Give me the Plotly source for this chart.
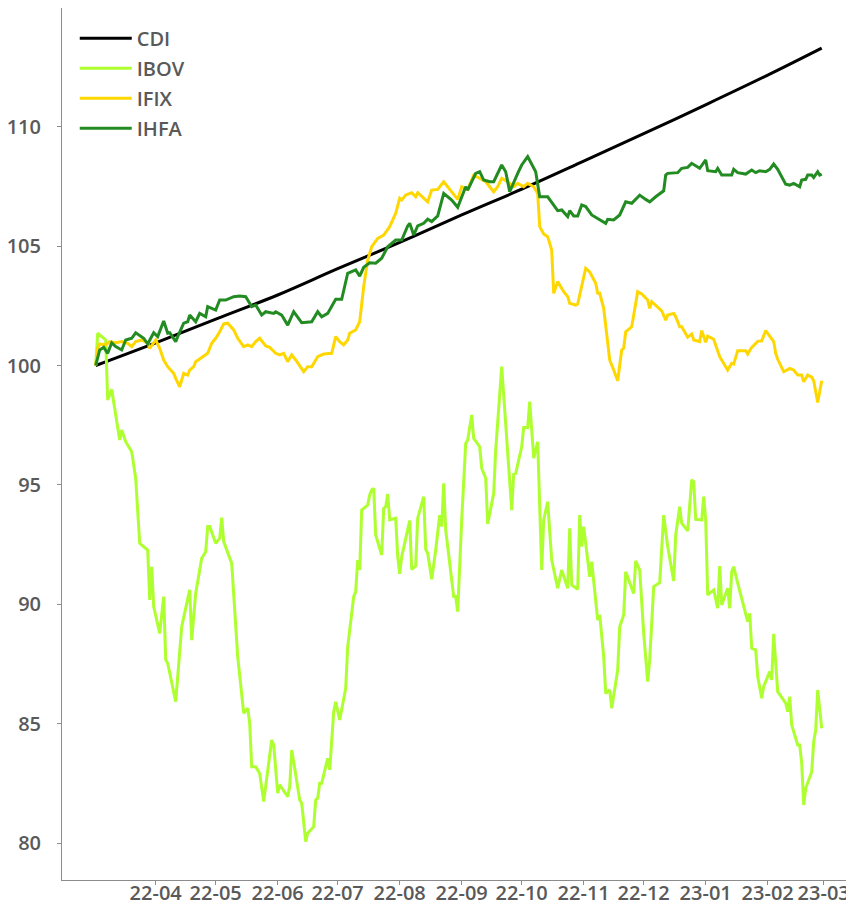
import pandas as pd
import plotly.graph_objects as go

START = pd.Timestamp("2022-03-02")

# days since 2022-03-02 and index values (base 100)
cdi_day = [0, 30, 61, 91, 121, 152, 183, 215, 244, 274, 306, 336, 363]
cdi_val = [100.00, 100.95, 101.97, 102.95, 104.05, 105.15, 106.30, 107.45, 108.55, 109.70, 110.95, 112.15, 113.28]

ibov_day = [0, 1, 5, 6, 8, 10, 12, 13, 15, 18, 20, 22, 26, 27, 28, 29, 32, 34, 35, 36, 40, 43, 47, 48, 50, 53, 55, 56, 57, 60,
            62, 63, 64, 68, 71, 74, 76, 77, 78, 80, 82, 84, 88, 89, 91, 92, 96, 97, 98, 99, 102, 103, 105, 106, 109, 110, 111, 112, 113, 116,
            117, 119, 120, 122, 124, 125, 126, 129, 130, 131, 132, 133, 136, 137, 138, 139, 140, 143, 144, 145, 146, 147, 150, 151, 152, 153, 157, 158, 160, 161,
            164, 165, 166, 168, 170, 172, 173, 174, 175, 179, 180, 181, 183, 185, 186, 188, 189, 192, 193, 195, 196, 199, 200, 201, 203, 208, 209, 210, 213, 214,
            216, 217, 219, 221, 223, 224, 226, 228, 231, 233, 236, 237, 238, 241, 242, 243, 244, 247, 248, 251, 252, 254, 255, 257, 258, 261, 262, 264, 265, 269,
            270, 272, 274, 276, 277, 279, 282, 284, 286, 289, 290, 292, 293, 296, 298, 299, 300, 303, 304, 305, 306, 309, 311, 312, 313, 316, 317, 318, 319, 321,
            326, 327, 328, 330, 331, 333, 334, 337, 338, 339, 341, 345, 346, 347, 348, 351, 352, 353, 354, 355, 358, 359, 360, 361, 363]
ibov_val = [100.00, 101.35, 101.07, 98.56, 99.00, 97.86, 96.88, 97.30, 96.81, 96.39, 95.28, 92.56, 92.28, 90.19, 91.58, 89.91, 88.79, 90.33, 87.68, 87.54,
            85.93, 89.07, 90.61, 88.51, 90.47, 91.93, 92.21, 93.26, 93.26, 92.56, 92.77, 93.63, 92.63, 91.72, 87.82, 85.45, 85.66, 85.03, 83.21, 83.21,
            82.93, 81.75, 84.33, 84.12, 82.10, 82.45, 81.96, 82.38, 83.91, 83.42, 81.82, 81.68, 80.08, 80.43, 80.70, 81.82, 81.89, 82.52, 82.52, 83.56,
            83.08, 85.51, 85.93, 85.17, 86.08, 86.49, 88.23, 90.33, 90.54, 91.86, 91.44, 93.95, 94.16, 94.58, 94.79, 94.86, 92.91, 92.07, 94.02, 94.09,
            94.62, 93.54, 93.61, 92.00, 91.28, 92.00, 93.51, 91.47, 91.61, 93.61, 94.51, 92.31, 92.14, 91.05, 92.28, 93.74, 93.26, 95.07, 93.12, 90.33,
            90.33, 89.70, 93.54, 96.74, 96.88, 97.93, 96.95, 96.60, 95.70, 95.28, 93.37, 94.65, 96.46, 97.58, 99.95, 93.95, 95.46, 95.49, 96.60, 97.41,
            97.41, 98.49, 96.12, 96.81, 91.44, 93.54, 94.30, 91.86, 90.68, 91.44, 90.68, 93.19, 90.82, 90.64, 93.74, 92.42, 93.26, 91.16, 91.79, 89.35,
            89.56, 87.82, 86.28, 86.42, 85.66, 87.26, 89.07, 89.56, 91.37, 90.46, 91.83, 91.44, 88.79, 86.77, 87.68, 90.75, 90.91, 93.74, 92.42, 90.98,
            92.91, 94.09, 93.40, 93.08, 95.21, 95.14, 93.56, 93.54, 94.51, 93.54, 90.40, 90.61, 89.84, 91.61, 89.98, 90.68, 89.84, 91.37, 91.58, 90.89,
            89.28, 89.63, 88.17, 88.10, 86.98, 86.08, 86.57, 87.19, 86.84, 88.77, 86.35, 85.87, 85.51, 86.14, 84.96, 84.12, 84.12, 83.36, 81.61, 82.31,
            83.00, 84.26, 84.75, 86.42, 84.82]

ifix_day = [0, 1, 2, 5, 7, 10, 13, 16, 18, 20, 23, 26, 27, 30, 32, 34, 36, 39, 40, 42, 44, 46, 47, 49, 50, 54, 56, 58, 60, 62,
            64, 66, 69, 71, 74, 76, 78, 80, 82, 85, 87, 90, 92, 94, 96, 98, 100, 104, 106, 108, 111, 114, 116, 118, 120, 122, 124, 126, 127, 130,
            132, 134, 136, 138, 141, 144, 147, 150, 152, 153, 155, 158, 160, 161, 164, 166, 168, 171, 174, 176, 179, 181, 183, 186, 189, 191, 195, 199, 201, 203,
            206, 209, 211, 214, 216, 219, 221, 222, 224, 226, 228, 229, 231, 234, 236, 237, 240, 241, 245, 247, 250, 251, 252, 254, 257, 259, 261, 263, 264, 265,
            268, 271, 273, 276, 277, 278, 281, 283, 285, 286, 289, 290, 292, 293, 296, 298, 299, 302, 303, 305, 306, 309, 312, 314, 316, 318, 319, 321, 325, 326,
            328, 331, 333, 335, 339, 340, 341, 344, 347, 349, 351, 353, 354, 356, 358, 359, 361, 363]
ifix_val = [100.00, 100.72, 100.90, 100.86, 101.00, 100.95, 101.00, 100.93, 100.79, 101.00, 101.07, 100.93, 100.72, 101.07, 100.72, 100.23, 99.95, 99.67, 99.46, 99.11,
            99.67, 99.60, 99.81, 99.95, 100.16, 100.37, 100.51, 100.93, 101.14, 101.41, 101.74, 101.77, 101.49, 101.14, 100.79, 100.86, 100.79, 101.00, 101.14, 100.82,
            100.76, 100.51, 100.44, 100.51, 100.16, 100.44, 100.23, 99.74, 99.95, 99.95, 100.37, 100.48, 100.48, 100.51, 101.21, 101.00, 100.86, 101.07, 101.35, 101.49,
            101.83, 103.30, 104.41, 104.97, 105.32, 105.46, 105.81, 106.37, 107.00, 106.92, 107.13, 107.23, 107.06, 107.23, 107.00, 106.85, 107.34, 107.37, 107.69, 107.48,
            107.20, 106.95, 107.48, 107.37, 107.97, 107.87, 107.69, 107.27, 107.48, 107.83, 107.69, 107.48, 107.62, 107.48, 107.62, 107.48, 107.20, 105.81, 105.50, 105.39,
            104.83, 103.02, 103.51, 103.09, 102.88, 102.60, 102.53, 102.57, 104.07, 103.92, 103.44, 103.02, 103.02, 102.39, 100.23, 99.81, 99.36, 100.65, 100.72, 101.41,
            101.62, 103.09, 102.99, 102.74, 102.39, 102.67, 102.46, 102.29, 101.90, 102.11, 102.18, 102.04, 101.62, 101.62, 101.18, 101.32, 101.07, 101.00, 101.46, 100.97,
            101.23, 101.10, 100.37, 100.09, 99.81, 100.09, 100.06, 100.62, 100.62, 100.48, 100.76, 101.01, 101.03, 101.46, 101.00, 100.51, 100.26, 99.74, 99.88, 99.81,
            99.60, 99.60, 99.32, 99.60, 99.51, 99.36, 98.45, 99.36]

ihfa_day = [0, 2, 4, 6, 8, 10, 13, 15, 18, 20, 24, 26, 29, 31, 34, 36, 37, 40, 41, 44, 46, 47, 50, 52, 55, 56, 60, 62, 65, 69,
            72, 75, 76, 78, 80, 83, 85, 89, 90, 93, 96, 99, 103, 108, 111, 113, 116, 120, 123, 126, 130, 132, 134, 137, 140, 143, 146, 150, 153, 156,
            157, 159, 161, 164, 166, 168, 171, 174, 178, 181, 185, 186, 190, 192, 194, 197, 199, 203, 205, 207, 211, 213, 216, 220, 222, 226, 231, 233, 236, 237,
            239, 241, 243, 245, 248, 252, 255, 256, 259, 262, 265, 268, 272, 275, 277, 280, 284, 285, 286, 291, 293, 296, 298, 302, 305, 306, 310, 311, 313, 318,
            319, 321, 325, 328, 330, 332, 335, 337, 339, 341, 345, 347, 349, 352, 353, 355, 356, 358, 359, 361, 362, 363]
ihfa_val = [100.00, 100.65, 100.76, 100.51, 100.95, 100.79, 100.65, 101.07, 101.14, 101.37, 101.14, 100.90, 101.37, 101.21, 101.86, 101.35, 101.37, 101.00, 101.21, 101.77,
            101.83, 102.11, 101.83, 102.18, 102.04, 102.46, 102.32, 102.74, 102.74, 102.88, 102.91, 102.88, 102.74, 102.46, 102.53, 102.11, 102.25, 102.18, 102.25, 102.11,
            101.69, 102.25, 101.79, 101.83, 102.25, 102.04, 102.18, 102.77, 102.77, 103.86, 104.00, 103.74, 104.11, 104.30, 104.28, 104.49, 104.97, 105.25, 105.25, 105.84,
            105.95, 105.46, 105.84, 105.95, 106.12, 106.02, 106.26, 107.20, 106.92, 106.62, 107.48, 107.34, 108.04, 108.11, 107.76, 107.69, 107.69, 108.39, 108.11, 107.27,
            108.04, 108.39, 108.74, 108.11, 107.06, 107.06, 106.48, 106.51, 106.23, 106.48, 106.26, 106.26, 106.72, 106.65, 106.30, 106.09, 105.95, 106.12, 106.09, 106.30,
            106.85, 106.79, 107.13, 106.95, 106.85, 107.06, 107.31, 107.97, 108.04, 108.07, 108.25, 108.29, 108.46, 108.25, 108.60, 108.15, 108.11, 108.25, 107.97, 107.97,
            108.21, 108.07, 108.01, 108.18, 108.07, 108.15, 108.11, 108.21, 108.43, 108.21, 107.59, 107.55, 107.62, 107.48, 107.76, 107.79, 107.97, 107.97, 107.87, 108.11,
            107.97, 108.01]

month_ticks = ["2022-04-01", "2022-05-01", "2022-06-01", "2022-07-01", "2022-08-01", "2022-09-01",
               "2022-10-01", "2022-11-01", "2022-12-01", "2023-01-01", "2023-02-01", "2023-03-01"]
month_labels = ["22-04", "22-05", "22-06", "22-07", "22-08", "22-09",
                "22-10", "22-11", "22-12", "23-01", "23-02", "23-03"]
y_ticks = [80, 85, 90, 95, 100, 105, 110]


def to_dates(days):
    return [START + pd.Timedelta(days=d) for d in days]


series = [
    ("CDI", cdi_day, cdi_val, "#000000", "spline"),
    ("IBOV", ibov_day, ibov_val, "#adff2f", "linear"),
    ("IFIX", ifix_day, ifix_val, "#ffd700", "linear"),
    ("IHFA", ihfa_day, ihfa_val, "#228b22", "linear"),
]

fig = go.Figure()
for name, days, vals, color, shape in series:
    fig.add_trace(go.Scatter(
        x=to_dates(days), y=vals, mode="lines", name=name,
        legendgroup=name,
        line=dict(color=color, width=3, shape=shape),
    ))

tick_font = dict(family="Open Sans", size=20, color="#595959", weight=600)

# the page body adds an 8px offset, so the figure is sized to fill the rest of the window
fig.update_layout(
    width=846, height=898,
    margin=dict(l=54, r=0, t=0, b=26, autoexpand=False),
    paper_bgcolor="white", plot_bgcolor="white",
    showlegend=True,
    legend=dict(
        x=0.0161, y=0.9878, xanchor="left", yanchor="top",
        font=dict(family="Open Sans", size=20, color="#595959", weight=600),
        tracegroupgap=1, bgcolor="rgba(0,0,0,0)", itemwidth=52,
    ),
    xaxis=dict(
        type="date", automargin=False,
        range=["2022-02-13 03:36", "2023-03-16 03:36"],
        tickvals=month_ticks, ticktext=month_labels,
        showgrid=False, zeroline=False,
        showline=True, linecolor="#8c8c8c", linewidth=1,
        ticks="outside", ticklen=4, tickcolor="#8c8c8c",
        tickfont=tick_font, ticklabelstandoff=-9,
    ),
    yaxis=dict(
        automargin=False,
        range=[78.47, 114.96],
        tickvals=y_ticks,
        showgrid=False, zeroline=False,
        showline=True, linecolor="#8c8c8c", linewidth=1,
        ticks="outside", ticklen=4, tickcolor="#8c8c8c",
        tickfont=tick_font, ticklabelstandoff=12,
    ),
)

fig.write_html("out.html")
